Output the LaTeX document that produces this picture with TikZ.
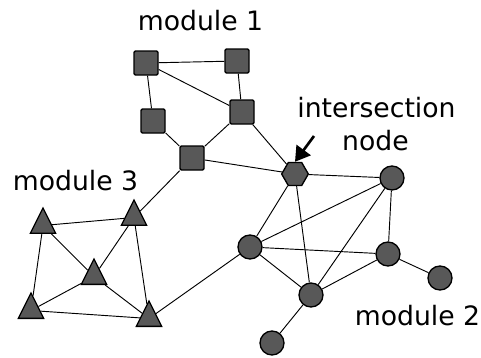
\documentclass[tikz,border=0pt]{standalone}
\usepackage{fontspec}
\setmainfont{DejaVu Sans}
\usetikzlibrary{arrows.meta,backgrounds,shapes.geometric}
\definecolor{nodegray}{RGB}{88,88,88}

\begin{document}
\begin{tikzpicture}[x=0.75pt,y=-0.75pt,
	vertex/.style={draw=black, fill=nodegray, line width=1pt, inner sep=0pt},
	sq/.style={vertex, rectangle, rounded corners=1pt, minimum size=18pt},
	tri/.style={vertex, isosceles triangle, isosceles triangle apex angle=53, isosceles triangle stretches, shape border rotate=90, minimum width=19pt, minimum height=19pt},
	circ/.style={vertex, circle, minimum size=18pt},
	hexa/.style={vertex, regular polygon, regular polygon sides=6, minimum size=20pt},
	lbl/.style={font=\fontsize{20}{24}\selectfont, anchor=base, inner sep=0pt},
	edge/.style={line width=0.7pt}]
	\useasboundingbox (0,0) rectangle (481,357);
	% module 1
	\node[sq] (s1) at (146,63) {};
	\node[sq] (s2) at (237,61) {};
	\node[sq] (s3) at (242,112) {};
	\node[sq] (s4) at (153,121) {};
	\node[sq] (s5) at (192,158) {};
	% module 3
	\node[tri] (t1) at (43,225.5) {};
	\node[tri] (t2) at (134,217.5) {};
	\node[tri] (t3) at (94,276.5) {};
	\node[tri] (t4) at (31,310.5) {};
	\node[tri] (t5) at (149,318.5) {};
	% module 2
	\node[hexa] (hx) at (295,174) {};
	\node[circ] (c1) at (392,178) {};
	\node[circ] (c2) at (250,247) {};
	\node[circ] (c3) at (388,254) {};
	\node[circ] (c4) at (440,278) {};
	\node[circ] (c5) at (311,295) {};
	\node[circ] (c6) at (272,343) {};
	\begin{scope}[on background layer]
		\foreach \a/\b in {s1/s2,s1/s3,s1/s4,s2/s3,s3/s5,s4/s5,s3/hx,s5/hx,s5/t2,
			t1/t2,t1/t3,t1/t4,t2/t3,t2/t5,t3/t4,t3/t5,t4/t5,t5/c2,
			hx/c1,hx/c2,hx/c5,c2/c1,c2/c3,c2/c5,c1/c5,c1/c3,c3/c5,c3/c4,c5/c6}
			\draw[edge] (\a) -- (\b);
	\end{scope}
	% labels
	\node[lbl] (mod1) at (200.5,30) {module 1};
	\node[lbl] (mod3) at (75.5,190) {module 3};
	\node[lbl] (mod2) at (417.5,325) {module 2};
	\node[lbl] (inter) at (376.5,117) {intersection};
	\node[lbl] (internode) at (375.5,150) {node};
	\coordinate (arrtail) at (314,136);
	\draw[line width=2pt, -{Triangle[length=11pt,width=13pt]}] (arrtail) -- (hx.north);
\end{tikzpicture}
\end{document}
